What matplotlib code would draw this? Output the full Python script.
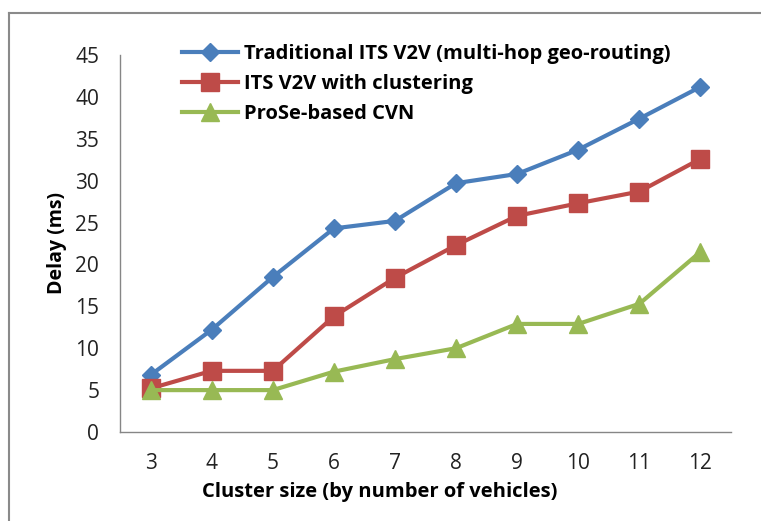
import matplotlib.pyplot as plt
from matplotlib.lines import Line2D

# cluster size vs delay for the three schemes
cluster_size = [3, 4, 5, 6, 7, 8, 9, 10, 11, 12]
traditional = [6.8, 12.2, 18.5, 24.3, 25.2, 29.7, 30.8, 33.7, 37.4, 41.2]
clustering = [5.2, 7.3, 7.3, 13.8, 18.4, 22.3, 25.8, 27.3, 28.7, 32.6]
prose_cvn = [5.0, 5.0, 5.0, 7.2, 8.7, 10.0, 12.9, 12.9, 15.3, 21.5]

labels = ['Traditional ITS V2V (multi-hop geo-routing)',
          'ITS V2V with clustering',
          'ProSe-based CVN']

plt.rcParams['font.family'] = ['Open Sans', 'DejaVu Sans']

fig = plt.figure(figsize=(7.61, 5.21), dpi=100)
ax = fig.add_axes([120/761, 1-432/521, 611/761, (432-55)/521])

ax.plot(cluster_size, traditional, color='#4A7EBB', lw=3, marker='D', ms=9.5, label=labels[0])
ax.plot(cluster_size, clustering, color='#BE4B48', lw=3, marker='s', ms=13, label=labels[1])
ax.plot(cluster_size, prose_cvn, color='#98B954', lw=3, marker='^', ms=13, label=labels[2])

ax.set_xlim(2.5, 12.5)
ax.set_ylim(0, 45)
ax.set_xticks(cluster_size)
ax.set_yticks(range(0, 46, 5))
ax.tick_params(length=0, labelsize=15, colors='#222222')
ax.tick_params(axis='y', pad=15)
ax.tick_params(axis='x', pad=15)
for s in ['top', 'right']:
    ax.spines[s].set_visible(False)
for s in ['left', 'bottom']:
    ax.spines[s].set_color('#868686')
    ax.spines[s].set_linewidth(1)

ax.set_ylabel('Delay (ms)', fontsize=14, fontweight='bold', labelpad=6)
fig.text(380/761, 1-492/521, 'Cluster size (by number of vehicles)',
         ha='center', va='center', fontsize=14.5, fontweight='bold')

leg = ax.legend(loc='upper left', bbox_to_anchor=(172/761, 1-34/521),
                bbox_transform=fig.transFigure, frameon=False,
                prop={'size': 14.5, 'weight': 'bold'}, handlelength=2.8,
                handletextpad=0.3, labelspacing=0.5, borderpad=0)

# outer chart border (top and left edges only)
top = 1 - 13/521
fig.add_artist(Line2D([9/761, 9/761], [-0.02, top], color='#8a8a8a', lw=1.5))
fig.add_artist(Line2D([9/761, 1.02], [top, top], color='#8a8a8a', lw=1.5))

fig.savefig('out.png', dpi=100)
